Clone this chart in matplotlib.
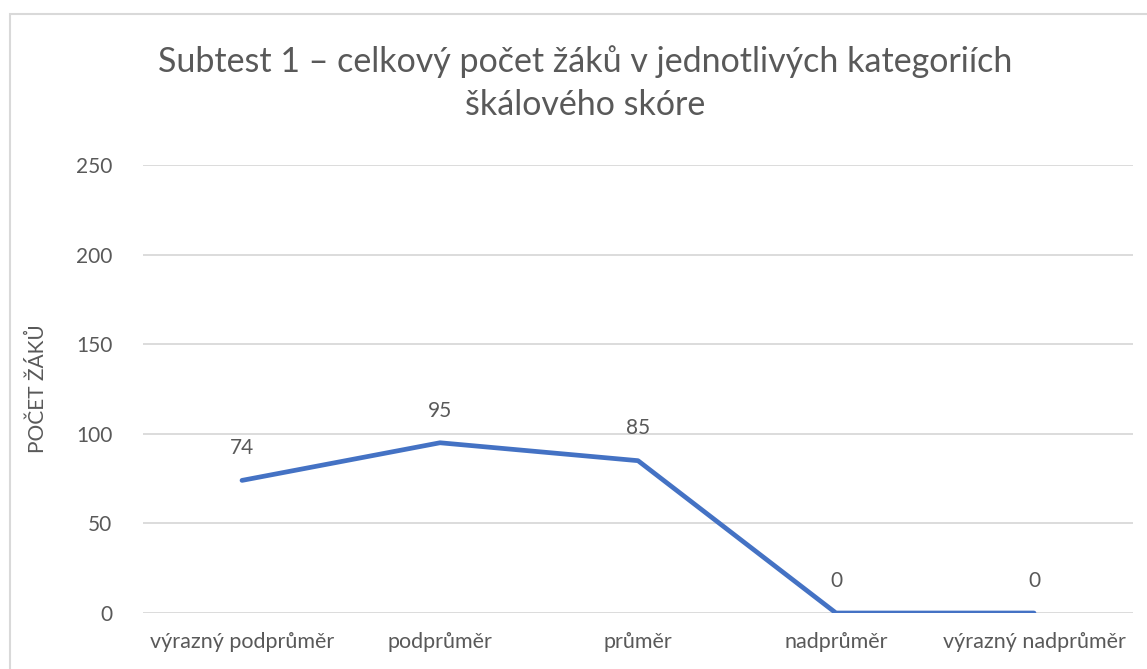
import matplotlib.pyplot as plt
from matplotlib.patches import Rectangle

categories = ["výrazný podprůměr", "podprůměr", "průměr", "nadprůměr", "výrazný nadprůměr"]
counts = [74, 95, 85, 0, 0]
yticks = [0, 50, 100, 150, 200, 250]

TEXT = "#595959"
GRID = "#D9D9D9"
LINE = "#4472C4"

plt.rcParams['font.family'] = ['Lato', 'DejaVu Sans']

fig = plt.figure(figsize=(11.47, 6.69), dpi=100)
ax = fig.add_axes([143 / 1147, 1 - 613 / 669, 990 / 1147, 448 / 669])

x = list(range(len(categories)))
ax.plot(x, counts, color=LINE, linewidth=3.4, solid_capstyle='round', solid_joinstyle='round', zorder=3)
for xi, v in zip(x, counts):
    ax.annotate(str(v), (xi, v), xytext=(0, 16), textcoords='offset points',
                ha='center', va='bottom', fontsize=15, color=TEXT)

ax.set_xlim(-0.5, len(categories) - 0.5)
ax.set_ylim(0, 250)
ax.set_yticks(yticks)
ax.set_xticks(x)
ax.set_xticklabels(categories)
ax.grid(axis='y', color=GRID, linewidth=1.3)
ax.set_axisbelow(True)
for s in ax.spines.values():
    s.set_visible(False)
ax.tick_params(length=0, labelsize=15.5, colors=TEXT, pad=14)
ax.tick_params(axis='y', labelsize=15, pad=22)
ax.set_ylabel("POČET ŽÁKŮ", fontsize=15, color=TEXT, labelpad=20)

fig.text(585 / 1147, 1 - 83 / 669, "Subtest 1 – celkový počet žáků v jednotlivých kategoriích\nškálového skóre",
         ha='center', va='center', fontsize=24.5, color=TEXT, linespacing=1.4)

fig.patches.append(Rectangle((10 / 1147, -0.1), 1.2, 1 - 14 / 669 + 0.1, transform=fig.transFigure,
                             fill=False, edgecolor=GRID, linewidth=1.5))

fig.savefig("out.png", dpi=100)
